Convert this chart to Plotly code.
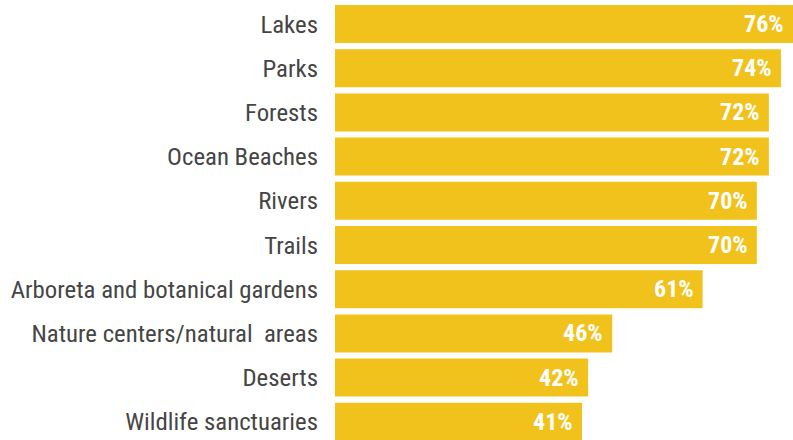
import plotly.graph_objects as go

categories = ["Lakes", "Parks", "Forests", "Ocean Beaches", "Rivers", "Trails",
              "Arboreta and botanical gardens", "Nature centers/natural  areas",
              "Deserts", "Wildlife sanctuaries"]
values = [76, 74, 72, 72, 70, 70, 61, 46, 42, 41]

cats = categories[::-1]
vals = values[::-1]

FONT = "Liberation Sans Narrow, Roboto Condensed, Roboto"

fig = go.Figure(go.Bar(
    y=cats, x=vals, orientation="h",
    marker=dict(color="#F1C21B", line=dict(width=0)),
    hoverinfo="none",
))
for c, v in zip(cats, vals):
    fig.add_annotation(x=v, y=c, xref="x", yref="y", text=f"{v}%",
                       showarrow=False, xanchor="right", xshift=-7,
                       font=dict(family=FONT, size=24, color="white", weight="bold"))
fig.update_layout(
    width=793, height=440,
    margin=dict(l=335, r=0, t=0, b=0, autoexpand=False),
    paper_bgcolor="white", plot_bgcolor="white",
    bargap=0.14, showlegend=False,
    xaxis=dict(range=[0, 76], visible=False, automargin=False),
    yaxis=dict(range=[-0.412, 9.543], showgrid=False, zeroline=False, showline=False,
               ticks="", ticklabelstandoff=16, automargin=False,
               tickfont=dict(family=FONT, size=24.8, color="#454545")),
)
fig.write_html("out.html",
               config={"displayModeBar": False, "staticPlot": True},
               post_script="document.body.style.margin='0';document.body.style.overflow='hidden';")
